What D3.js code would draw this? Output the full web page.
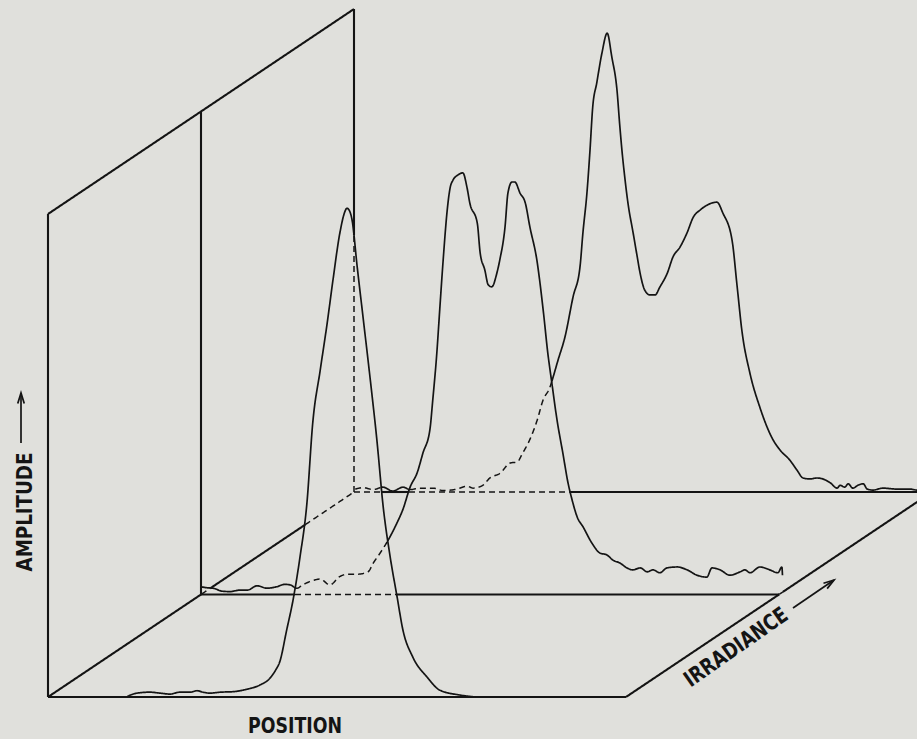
<!DOCTYPE html>
<html><head><meta charset="utf-8">
<script src="https://cdn.jsdelivr.net/npm/d3@7"></script>
<style>html,body{margin:0;padding:0;background:#e0e0dc;} svg{display:block}</style>
</head><body>
<svg id="chart" width="917" height="739"></svg>
<script>
// ---- data (position 0-100, amplitude 0-100, irradiance plane 0..2) ----
const positionDomain = [0, 100];
const amplitudeDomain = [0, 100];
const irradianceDomain = [0, 2];
const traceLevels = [0, 1, 2]; // front (low), middle, back (high irradiance)

const frontTrace = [
  [13.7,0.1],[15.4,0.8],[17.6,1.0],[19.4,0.8],[21.1,0.6],[22.8,1.0],[24.6,1.0],[25.8,1.3],
  [26.8,1.0],[28.0,0.8],[29.8,1.0],[32.0,1.1],[34.4,1.6],[36.7,2.5],[38.4,3.9],[39.4,5.6],
  [40.1,7.3],[41.3,13.9],[42.4,20.1],[43.6,29.0],[44.8,40.2],[45.8,56.7],[47.1,67.7],
  [48.3,77.4],[49.3,86.3],[50.5,96.1],[51.4,100.6],[51.7,101.2],[52.1,100.8],[52.6,98.8],
  [53.5,89.0],[54.5,78.7],[55.7,66.3],[56.9,53.2],[58.0,39.3],[59.2,29.0],[60.4,20.7],
  [61.4,13.9],[63.1,8.3],[65.6,4.1],[67.8,1.4],[71.3,0.4],[73.9,0]
];
const middleTrace = [
  [0,1.6],[1.0,1.4],[2.1,1.3],[3.6,0.7],[5.0,0.6],[6.7,0.9],[8.0,0.9],[9.7,1.8],[11.4,1.3],
  [13.1,1.6],[14.5,2.1],[15.4,2.0],[16.6,1.3],[17.6,2.0],[19.4,2.9],[20.6,3.2],[22.3,2.0],
  [24.0,3.7],[25.3,4.2],[27.0,4.2],[28.9,4.7],[29.8,6.5],[31.0,8.6],[32.4,11.3],[33.9,14.8],
  [34.9,17.5],[36.2,22.3],[37.4,25.2],[38.4,29.3],[39.6,34.1],[40.1,40.3],[40.8,50.0],
  [41.3,58.9],[41.9,69.3],[42.6,79.6],[43.1,84.2],[43.6,85.8],[44.5,86.9],[45.3,87.3],
  [46.0,84.4],[46.5,81.1],[47.8,76.9],[48.3,70.7],[49.1,67.2],[49.7,64.1],[50.3,63.7],
  [51.2,66.6],[51.7,69.3],[52.6,76.1],[53.1,83.1],[53.8,85.4],[54.3,85.4],[55.2,83.1],
  [56.1,81.1],[56.9,76.1],[58.1,69.3],[59.2,58.9],[60.0,50.0],[60.7,43.8],[61.6,36.1],
  [62.6,29.3],[63.5,23.1],[64.2,19.6],[65.1,16.0],[66.1,14.0],[67.6,10.7],[69.0,8.6],
  [70.2,8.2],[71.3,7.1],[72.5,6.5],[73.7,5.5],[74.7,5.1],[76.0,5.5],[77.2,4.7],[78.2,5.1],
  [79.4,4.5],[80.6,5.5],[82.4,5.7],[84.1,5.1],[85.8,4.0],[87.5,3.6],[88.4,5.5],[89.8,5.1],
  [91.5,4.0],[93.3,4.7],[94.1,5.1],[95.0,4.5],[96.7,5.7],[98.4,5.1],[99.8,4.5],[100.5,5.7],
  [100.6,4.0]
];
const backTrace = [
  [0.2,0.6],[1.6,0.9],[3.3,0.5],[5.0,1.0],[6.7,0.2],[8.5,1.0],[9.7,0.5],[11.4,0.8],[13.7,0.8],
  [15.4,0.3],[17.8,0.6],[19.6,1.2],[20.6,0.8],[22.3,1.4],[23.5,2.9],[25.3,3.9],[27.0,6.0],
  [28.2,6.2],[29.2,8.1],[30.4,10.8],[31.7,14.9],[32.7,19.0],[33.9,21.7],[34.3,23.2],
  [35.3,27.3],[36.5,32.1],[37.9,40.4],[39.1,46.6],[39.6,53.6],[40.3,61.9],[40.8,70.2],
  [41.3,79.7],[42.0,84.7],[42.9,90.9],[43.8,95.0],[44.6,90.1],[45.5,83.2],[46.0,75.6],
  [46.4,70.2],[46.9,64.6],[47.4,59.8],[48.3,53.6],[49.0,48.7],[49.5,45.3],[50.3,41.8],
  [51.2,40.8],[52.1,40.8],[52.9,42.4],[54.2,45.3],[55.2,48.7],[56.4,50.7],[57.6,53.6],
  [58.7,56.9],[59.9,58.4],[61.1,59.4],[62.8,60.0],[63.8,57.8],[65.4,52.2],[66.3,42.4],
  [67.1,33.5],[68.5,24.6],[70.2,17.6],[72.5,10.8],[73.7,8.7],[75.4,6.6],[76.6,4.6],
  [77.7,2.9],[78.9,2.7],[80.1,2.9],[81.1,2.7],[82.4,1.9],[83.6,0.8],[84.1,1.4],[84.9,1.0],
  [85.5,1.7],[86.3,0.8],[87.2,1.4],[88.1,1.7],[88.8,0.6],[89.8,0.4],[91.5,0.8],[93.9,0.6],
  [96.2,0.6],[97.4,0.4],[100,0.4]
];
const amplitudeLabel = "AMPLITUDE";
const positionLabel = "POSITION";
const irradianceLabel = "IRRADIANCE";

// ---- scales / projection ----
const W = 917, H = 739;
const INK = "#141414";
const svg = d3.select("#chart");
svg.append("rect").attr("width", W).attr("height", H).attr("fill", "#e0e0dc");

const x = d3.scaleLinear().domain(positionDomain).range([48, 626]);
const y = d3.scaleLinear().domain(amplitudeDomain).range([697, 214]);
const zX = d3.scaleLinear().domain(irradianceDomain).range([0, 306]);
const zY = d3.scaleLinear().domain(irradianceDomain).range([0, -205]);
const project = (p, a, z) => [x(p) + zX(z), y(a) + zY(z)];

// smooth each trace with a monotone curve, then sample it densely
const tmp = svg.append("path").attr("fill", "none").attr("stroke", "none");
function smoothSample(screenPts) {
  tmp.attr("d", d3.line().curve(d3.curveMonotoneX)(screenPts));
  const node = tmp.node(), L = node.getTotalLength(), out = [];
  for (let l = 0; l < L; l += 0.75) { const q = node.getPointAtLength(l); out.push([q.x, q.y]); }
  const q = node.getPointAtLength(L); out.push([q.x, q.y]);
  return out;
}
const traces = [frontTrace, middleTrace, backTrace].map((t, i) => ({
  z: traceLevels[i],
  pts: smoothSample(t.map(([p, a]) => project(p, a, traceLevels[i])))
}));
tmp.remove();
const bis = d3.bisector(d => d[0]).left;

function hidden(sx, sy, z) {
  for (const tr of traces) {
    if (tr.z >= z - 1e-6) continue;
    const pts = tr.pts;
    if (sx < pts[0][0] || sx > pts[pts.length - 1][0]) continue;
    let i = bis(pts, sx);
    if (i <= 0) i = 1;
    const [x0, y0] = pts[i - 1], [x1, y1] = pts[i];
    const cy = x1 === x0 ? Math.min(y0, y1) : y0 + (y1 - y0) * (sx - x0) / (x1 - x0);
    const base = y(0) + zY(tr.z);
    if (sy > cy + 0.6 && sy < base + 1) return true;
  }
  return false;
}

const line = d3.line();
function drawRuns(samples, width) {
  const runs = [];
  let cur = null;
  samples.forEach(pt => {
    if (!cur || cur.h !== pt.h) {
      if (cur) cur.pts.push([pt.sx, pt.sy]);
      cur = { h: pt.h, pts: [[pt.sx, pt.sy]] };
      runs.push(cur);
    } else cur.pts.push([pt.sx, pt.sy]);
  });
  runs.forEach(r => {
    svg.append("path").attr("d", line(r.pts)).attr("fill", "none")
      .attr("stroke", INK)
      .attr("stroke-width", r.h ? 1.5 : width)
      .attr("stroke-dasharray", r.h ? "6,4" : null)
      .attr("stroke-linejoin", "round").attr("stroke-linecap", "butt");
  });
}

// straight edge in data space -> sampled with hidden flags
function edgeSamples(A, B) {
  const sa = project(...A), sb = project(...B);
  const n = Math.max(1, Math.ceil(Math.hypot(sb[0] - sa[0], sb[1] - sa[1])));
  const out = [];
  for (let j = 0; j <= n; j++) {
    const t = j / n;
    const p = A[0] + (B[0] - A[0]) * t, a = A[1] + (B[1] - A[1]) * t, z = A[2] + (B[2] - A[2]) * t;
    const [sx, sy] = project(p, a, z);
    out.push({ sx, sy, h: hidden(sx, sy, z) });
  }
  return out;
}

// ---- box frame ----
const pMin = positionDomain[0], pMax = positionDomain[1];
const aMax = amplitudeDomain[1];
const frameEdges = [
  [[pMin, 0, 0], [pMin, aMax, 0]],
  [[pMin, aMax, 0], [pMin, aMax, 2]],
  [[pMin, 0, 1], [pMin, aMax, 1]],
  [[pMin, 0, 2], [pMin, aMax, 2]],
  [[pMin, 0, 0], [pMax, 0, 0]],
  [[pMin, 0, 0], [pMin, 0, 2]],
  [[pMax, 0, 0], [pMax, 0, 2]],
  [[pMin, 0, 1], [pMax, 0, 1]],
  [[pMin, 0, 2], [pMax, 0, 2]]
];
frameEdges.forEach(e => drawRuns(edgeSamples(e[0], e[1]), 2.1));

// ---- traces ----
traces.forEach(tr => drawRuns(tr.pts.map(([sx, sy]) => ({ sx, sy, h: hidden(sx, sy, tr.z) })), 1.7));

// ---- labels ----
const font = "'DejaVu Sans Condensed','DejaVu Sans',sans-serif";
function label(txt, tf, len) {
  svg.append("text").attr("transform", tf)
    .attr("text-anchor", "middle").attr("font-family", font).attr("font-weight", "bold")
    .attr("font-size", 22).attr("textLength", len).attr("lengthAdjust", "spacingAndGlyphs")
    .attr("fill", INK).text(txt);
}
label(amplitudeLabel, "translate(32,512) rotate(-90)", 119);
label(positionLabel, "translate(295,733)", 94);
label(irradianceLabel, "translate(740,653) rotate(-35)", 121);

// arrows
function arrow(x1, y1, x2, y2) {
  svg.append("line").attr("x1", x1).attr("y1", y1).attr("x2", x2).attr("y2", y2)
    .attr("stroke", INK).attr("stroke-width", 1.7);
  const ang = Math.atan2(y2 - y1, x2 - x1), L = 11, w = 0.3;
  const p1 = [x2 - L * Math.cos(ang - w), y2 - L * Math.sin(ang - w)];
  const p2 = [x2 - L * Math.cos(ang + w), y2 - L * Math.sin(ang + w)];
  svg.append("path").attr("d", `M${p1}L${x2},${y2}L${p2}`).attr("fill", "none")
    .attr("stroke", INK).attr("stroke-width", 1.7);
}
arrow(21, 443, 21, 393);
arrow(793, 608, 834, 580);
</script>
</body></html>
